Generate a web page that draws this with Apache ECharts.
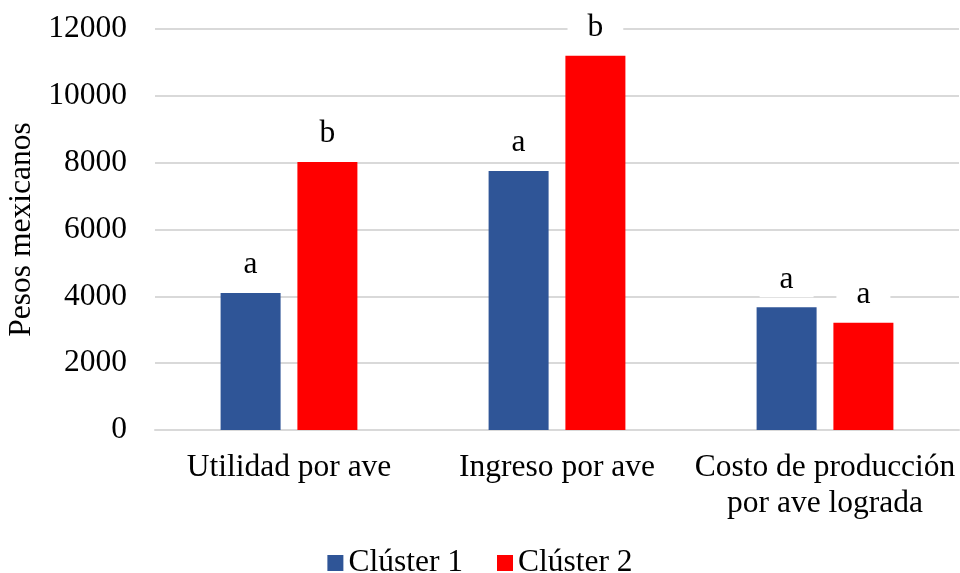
<!DOCTYPE html>
<html><head><meta charset="utf-8">
<script src="https://cdn.jsdelivr.net/npm/echarts@6/dist/echarts.min.js"></script>
<style>html,body{margin:0;padding:0;background:#fff}#c{width:960px;height:573px}</style>
</head><body><div id="c"></div>
<script>
var categories = ['Utilidad por ave', 'Ingreso por ave', 'Costo de producción\npor ave lograda'];
var seriesNames = ['Clúster 1', 'Clúster 2'];
var cluster1 = [4100, 7750, 3670];
var cluster2 = [8020, 11200, 3210];
var letters1 = ['a', 'a', 'a'];
var letters2 = ['b', 'b', 'a'];
var yTicks = [0, 2000, 4000, 6000, 8000, 10000, 12000];

var FONT = '"Liberation Serif", "Times New Roman", serif';
var FS = 31.5;
var chart = echarts.init(document.getElementById('c'));
function lbl(letters){
  return {show:true, position:'top', distance:10, color:'#000', fontFamily:FONT, fontSize:FS,
    backgroundColor:'#fff', padding:[2,20,2,20],
    formatter:function(p){return letters[p.dataIndex];}};
}
chart.setOption({
  animation:false,
  textStyle:{fontFamily:FONT},
  grid:{left:155, right:1, top:29, bottom:143, containLabel:false, outerBoundsMode:'none'},
  legend:{top:542, left:'center', itemWidth:16, itemHeight:16, itemGap:34, icon:'rect',
    textStyle:{fontFamily:FONT, fontSize:FS, color:'#000'}, data:seriesNames},
  xAxis:{type:'category', data:categories,
    axisLine:{lineStyle:{color:'#d9d9d9', width:2}}, axisTick:{show:false},
    axisLabel:{interval:0, fontFamily:FONT, fontSize:FS, color:'#000', margin:20, lineHeight:36}},
  yAxis:{type:'value', min:yTicks[0], max:yTicks[yTicks.length-1], interval:2000,
    name:'Pesos mexicanos', nameLocation:'middle', nameGap:117, nameRotate:90,
    nameTextStyle:{fontFamily:FONT, fontSize:FS, color:'#000'},
    axisLine:{show:false}, axisTick:{show:false},
    axisLabel:{fontFamily:FONT, fontSize:FS, color:'#000', margin:28,
      formatter:function(v){return String(v);}},
    splitLine:{lineStyle:{color:'#d9d9d9', width:2}}},
  series:[
    {name:seriesNames[0], type:'bar', data:cluster1, barWidth:60, barGap:'28%',
      itemStyle:{color:'#2F5597'}, label:lbl(letters1)},
    {name:seriesNames[1], type:'bar', data:cluster2, barWidth:60, barGap:'28%',
      itemStyle:{color:'#FF0000'}, label:lbl(letters2)}
  ]
});
</script></body></html>
